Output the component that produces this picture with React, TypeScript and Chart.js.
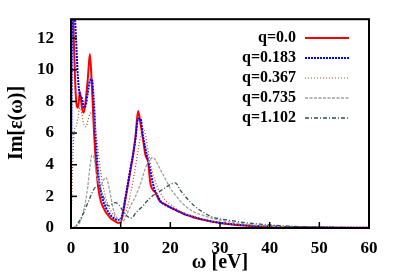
import React, { useEffect, useRef } from "react";
import { Chart, registerables } from "chart.js";
Chart.register(...registerables);

const omega = [0, 0.3, 0.6, 1, 1.4, 1.8, 2.2, 2.6, 3, 3.4, 3.8, 4.2, 4.6, 5, 5.5, 6, 6.5, 7, 7.5, 8, 8.5, 9, 9.5, 10, 10.5, 11, 11.5, 12, 12.5, 13, 13.5, 14, 14.5, 15, 15.5, 16, 16.5, 17, 17.5, 18, 19, 20, 21, 22, 23, 24, 25, 26, 28, 30, 32, 35, 38, 42, 46, 50, 55, 60];

const q0 = [20, 15, 11.5, 8.2, 7.6, 8.6, 7.6, 7.3, 8.2, 9.5, 11.0, 9.0, 6.3, 4.2, 2.5, 1.7, 1.3, 1.0, 0.8, 0.6, 0.5, 0.4, 0.33, 0.35, 1.0, 1.9, 2.8, 3.7, 4.6, 5.8, 7.4, 6.6, 5.6, 4.6, 4.2, 2.8, 2.4, 2.25, 1.9, 1.65, 1.5, 1.3, 1.15, 1.0, 0.85, 0.75, 0.65, 0.57, 0.42, 0.32, 0.24, 0.16, 0.11, 0.07, 0.04, 0.03, 0.02, 0.01];

const q183 = [3, 14, 14, 12, 9.5, 8.4, 8.2, 7.6, 7.8, 8.6, 9.3, 9.4, 8.0, 5.5, 3.4, 2.3, 1.7, 1.3, 1.0, 0.8, 0.65, 0.55, 0.5, 0.55, 1.1, 2.0, 2.9, 3.8, 4.7, 5.7, 6.9, 6.9, 5.8, 5.0, 4.3, 3.6, 2.8, 2.3, 2.0, 1.7, 1.45, 1.3, 1.15, 1.0, 0.87, 0.77, 0.67, 0.58, 0.44, 0.33, 0.25, 0.17, 0.12, 0.07, 0.04, 0.03, 0.02, 0.01];

const q367 = [0, 3.5, 6.0, 6.4, 7.0, 7.6, 7.2, 6.5, 6.4, 6.8, 7.2, 7.3, 6.8, 6.0, 4.8, 3.5, 2.6, 1.9, 1.4, 1.1, 0.85, 0.7, 0.6, 0.55, 0.7, 1.0, 1.5, 2.2, 3.0, 3.9, 4.9, 5.8, 6.3, 5.9, 4.9, 4.1, 3.4, 2.9, 2.5, 2.2, 1.75, 1.5, 1.25, 1.05, 0.9, 0.78, 0.68, 0.6, 0.45, 0.34, 0.26, 0.18, 0.12, 0.07, 0.04, 0.03, 0.02, 0.01];

const q735 = [0, 0.02, 0.05, 0.1, 0.2, 0.35, 0.7, 1.2, 1.8, 2.7, 3.8, 4.6, 4.5, 3.6, 2.9, 2.7, 3.0, 3.2, 2.8, 2.0, 1.2, 0.75, 0.55, 0.45, 0.45, 0.7, 1.05, 1.4, 1.7, 2.0, 2.4, 2.8, 3.3, 3.8, 4.15, 4.35, 4.45, 4.3, 4.0, 3.7, 3.1, 2.5, 2.1, 1.7, 1.4, 1.15, 0.98, 0.86, 0.65, 0.5, 0.38, 0.25, 0.16, 0.1, 0.06, 0.04, 0.02, 0.01];

const q1102 = [0, 0, 0.05, 0.15, 0.3, 0.5, 0.75, 1.0, 1.3, 1.6, 1.9, 2.2, 2.45, 2.6, 2.65, 2.4, 2.0, 1.6, 1.4, 1.45, 1.58, 1.6, 1.5, 1.3, 1.05, 0.85, 0.7, 0.62, 0.7, 0.95, 1.1, 1.25, 1.4, 1.6, 1.75, 1.9, 2.05, 2.15, 2.25, 2.35, 2.55, 2.75, 2.85, 2.4, 2.0, 1.65, 1.35, 1.12, 0.75, 0.58, 0.48, 0.34, 0.25, 0.15, 0.09, 0.05, 0.03, 0.02];

const seriesLabels = ["q=0.0", "q=0.183", "q=0.367", "q=0.735", "q=1.102"];
const seriesValues = [q0, q183, q367, q735, q1102];
const xTicks = [0, 10, 20, 30, 40, 50, 60];
const yTicks = [0, 2, 4, 6, 8, 10, 12];
const xTitle = "ω [eV]";
const yTitle = "Im[ε(ω)]";

const styles = [
  { color: "#ff0000", width: 2, dash: [] as number[] },
  { color: "#0000ff", width: 2, dash: [2, 1] },
  { color: "#a0522d", width: 1.2, dash: [1, 2] },
  { color: "#a0a0a0", width: 1.3, dash: [3, 1.5] },
  { color: "#2f4f4f", width: 1.3, dash: [4, 2, 1, 2] },
];

const FONT = "'Liberation Serif', 'Times New Roman', serif";

export default function App() {
  const ref = useRef<HTMLCanvasElement>(null);
  useEffect(() => {
    document.body.style.margin = "0";
    const canvas = ref.current!;
    const framePlugin = {
      id: "frame",
      afterDraw(chart: any) {
        const { ctx, chartArea } = chart;
        const { left, right, top, bottom } = chartArea;
        const xs = chart.scales.x;
        const ys = chart.scales.y;
        ctx.save();
        ctx.strokeStyle = "#000";
        ctx.setLineDash([]);
        ctx.lineWidth = 1.5;
        xTicks.forEach((t) => {
          const px = xs.getPixelForValue(t);
          ctx.beginPath();
          ctx.moveTo(px, bottom);
          ctx.lineTo(px, bottom - 6);
          ctx.stroke();
        });
        yTicks.forEach((t) => {
          const py = ys.getPixelForValue(t);
          ctx.beginPath();
          ctx.moveTo(left, py);
          ctx.lineTo(left + 6, py);
          ctx.stroke();
        });
        ctx.lineWidth = 2;
        ctx.strokeRect(left, top, right - left, bottom - top);
        // legend
        ctx.font = `bold 16px ${FONT}`;
        ctx.fillStyle = "#000";
        ctx.textAlign = "right";
        ctx.textBaseline = "middle";
        seriesLabels.forEach((lab, i) => {
          const y = 38 + i * 20;
          ctx.fillText(lab, 296, y);
          const s = styles[i];
          ctx.strokeStyle = s.color;
          ctx.lineWidth = s.width;
          ctx.setLineDash(s.dash);
          ctx.beginPath();
          ctx.moveTo(305, y);
          ctx.lineTo(349, y);
          ctx.stroke();
        });
        ctx.setLineDash([]);
        // titles
        ctx.fillStyle = "#000";
        ctx.font = `bold 20px ${FONT}`;
        ctx.textAlign = "center";
        ctx.textBaseline = "middle";
        ctx.fillText(xTitle, (left + right) / 2, 263);
        ctx.translate(17, 123);
        ctx.rotate(-Math.PI / 2);
        ctx.fillText(yTitle, 0, 0);
        ctx.restore();
      },
    };
    const chart = new Chart(canvas, {
      type: "line",
      data: {
        labels: omega,
        datasets: seriesValues.map((vals, i) => ({
          label: seriesLabels[i],
          data: omega.map((w, k) => ({ x: w, y: vals[k] })),
          borderColor: styles[i].color,
          borderWidth: styles[i].width,
          borderDash: styles[i].dash,
          pointRadius: 0,
          fill: false,
          cubicInterpolationMode: "monotone" as const,
          order: 5 - i,
        })),
      },
      options: {
        animation: false,
        responsive: false,
        devicePixelRatio: 1,
        layout: { padding: { top: 19, right: 30, left: 0, bottom: 0 } },
        plugins: { legend: { display: false }, tooltip: { enabled: false } },
        scales: {
          x: {
            type: "linear",
            min: 0,
            max: 60,
            grid: { display: false },
            border: { display: false },
            afterBuildTicks: (s: any) => {
              s.ticks = xTicks.map((v) => ({ value: v }));
            },
            afterFit: (s: any) => {
              s.height = 51;
            },
            ticks: {
              padding: 2,
              color: "#000",
              font: { family: FONT, size: 17, weight: "bold" },
              maxRotation: 0,
            },
          },
          y: {
            type: "linear",
            min: 0,
            max: 13.2,
            grid: { display: false },
            border: { display: false },
            afterBuildTicks: (s: any) => {
              s.ticks = yTicks.map((v) => ({ value: v }));
            },
            afterFit: (s: any) => {
              s.width = 71;
            },
            ticks: {
              padding: 9,
              color: "#000",
              font: { family: FONT, size: 17, weight: "bold" },
            },
          },
        },
      },
      plugins: [framePlugin],
    });
    return () => chart.destroy();
  }, []);
  return (
    <div style={{ position: "absolute", left: 0, top: 0, width: 399, height: 279 }}>
      <canvas ref={ref} width={399} height={279} style={{ width: 399, height: 279, display: "block" }} />
    </div>
  );
}
